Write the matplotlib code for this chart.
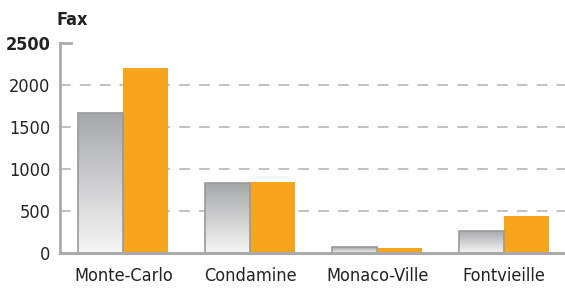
import matplotlib
matplotlib.use("Agg")
import matplotlib.pyplot as plt
import numpy as np
from matplotlib.colors import LinearSegmentedColormap

categories = ["Monte-Carlo", "Condamine", "Monaco-Ville", "Fontvieille"]
series_grey = [1667, 833, 71, 265]
series_orange = [2202, 849, 63, 444]
yticks = [0, 500, 1000, 1500, 2000, 2500]
ylabel = "Fax"

plt.rcParams['font.family'] = ['DejaVu Sans']
plt.rcParams['font.stretch'] = 'condensed'

fig = plt.figure(figsize=(5.65, 2.91), dpi=100)
ax = fig.add_axes([60/565, 1-253/291, 1-60/565, (253-43)/291])

x = np.arange(len(categories))
w = 0.355
gcol = "#999999"
grad = np.linspace(0, 1, 256).reshape(-1, 1)
cmap = LinearSegmentedColormap.from_list("g", ["#f6f6f6", "#a6a7a9"])

bars = ax.bar(x - w/2, series_grey, width=w, color="none", edgecolor=gcol, linewidth=1.2, zorder=4)
for b in bars:
    bx, by = b.get_x(), b.get_y()
    bw, bh = b.get_width(), b.get_height()
    im = ax.imshow(grad, cmap=cmap, aspect="auto", extent=[bx, bx+bw, by, by+bh],
                   origin="lower", zorder=3)
    im.set_clip_path(b)
ax.bar(x + w/2, series_orange, width=w, color="#f7a51c", edgecolor="none", zorder=3)
ax.set_xlim(-0.5, 3.48)
ax.set_ylim(0, 2500)

for yv in yticks[1:-1]:
    ax.axhline(yv, color="#b0b0b0", lw=1.1, ls=(0, (7, 6)), zorder=1)

for s in ["top", "right"]:
    ax.spines[s].set_visible(False)
ax.spines["left"].set_color("#aaaaaa")
ax.spines["left"].set_linewidth(2)
ax.spines["bottom"].set_color("#aaaaaa")
ax.spines["bottom"].set_linewidth(2.2)
ax.spines["bottom"].set_zorder(5)

ax.set_yticks(yticks)
ax.set_yticklabels([str(v) for v in yticks], fontsize=13, color="#222222")
ax.get_yticklabels()[-1].set_fontweight("bold")
ax.tick_params(axis="y", length=0, pad=7)
ax.set_xticks(x)
ax.set_xticklabels(categories, fontsize=13, color="#222222")
ax.tick_params(axis="x", length=0, pad=10)
ax.plot([-0.5, -0.41], [2500, 2500], color="#aaaaaa", lw=2, clip_on=False, zorder=5)

fig.text(57/565, 1-20/291, ylabel, fontsize=13, fontweight="bold", color="#222222",
         ha="left", va="center")

fig.savefig("out.png", dpi=100)
